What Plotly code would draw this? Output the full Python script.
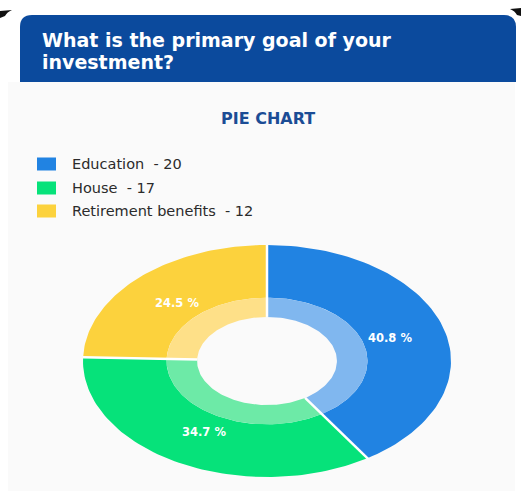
import numpy as np
import plotly.graph_objects as go

# --- data ---
categories = ["Education", "House", "Retirement benefits"]
counts = [20, 17, 12]
colors = ["#2183e2", "#06e27a", "#fcd23d"]
light_colors = ["#80b7ef", "#6deaa7", "#fee088"]
title_lines = ["What is the primary goal of your", "investment?"]

W, H = 521, 491


def px(x):
    return x / W


def py(y):
    return 1 - y / H


total = sum(counts)
shares = [c / total for c in counts]

R_OUT, R_MID, R_IN = 1.0, 0.546, 0.38


def ring_path(a0, a1, r0, r1, n=80):
    t = np.linspace(a0, a1, n)
    xo, yo = r1 * np.sin(t), r1 * np.cos(t)
    xi, yi = r0 * np.sin(t[::-1]), r0 * np.cos(t[::-1])
    xs = np.concatenate([xo, xi, xo[:1]])
    ys = np.concatenate([yo, yi, yo[:1]])
    return xs, ys


fig = go.Figure()
annotations = []
shapes = []

# donut slices, angles measured clockwise from 12 o'clock
start = 0.0
bounds = []
for cat, s, c, lc in zip(categories, shares, colors, light_colors):
    a0, a1 = start * 2 * np.pi, (start + s) * 2 * np.pi
    xs, ys = ring_path(a0, a1, R_MID, R_OUT)
    fig.add_trace(go.Scatter(x=xs, y=ys, fill="toself", fillcolor=c, mode="lines",
                             line=dict(width=0, color=c), hoverinfo="skip", showlegend=False))
    xs, ys = ring_path(a0, a1, R_IN, R_MID)
    fig.add_trace(go.Scatter(x=xs, y=ys, fill="toself", fillcolor=lc, mode="lines",
                             line=dict(width=0, color=lc), hoverinfo="skip", showlegend=False))
    bounds.append(a0)
    mid = (a0 + a1) / 2
    annotations.append(dict(x=0.7 * np.sin(mid), y=0.7 * np.cos(mid), xref="x", yref="y",
                            text=f"{s * 100:.1f} %", showarrow=False,
                            font=dict(family="DejaVu Sans", size=11.5, color="white", weight="bold")))
    start += s

# white separators between slices
sx, sy = [], []
for a in bounds:
    sx += [R_IN * np.sin(a), 1.01 * np.sin(a), None]
    sy += [R_IN * np.cos(a), 1.01 * np.cos(a), None]
fig.add_trace(go.Scatter(x=sx, y=sy, mode="lines", line=dict(color="white", width=2.5),
                         hoverinfo="skip", showlegend=False))

# card background
shapes.append(dict(type="rect", xref="paper", yref="paper", x0=px(8), x1=px(515),
                   y0=py(491), y1=py(82), fillcolor="#fafafa", line=dict(width=0), layer="below"))

# header with rounded top corners
x0h, x1h, y0h, y1h, rr = 20, 516, 15, 82, 12
path = (f"M {px(x0h)},{py(y1h)} L {px(x0h)},{py(y0h + rr)} "
        f"Q {px(x0h)},{py(y0h)} {px(x0h + rr)},{py(y0h)} "
        f"L {px(x1h - rr)},{py(y0h)} Q {px(x1h)},{py(y0h)} {px(x1h)},{py(y0h + rr)} "
        f"L {px(x1h)},{py(y1h)} Z")
shapes.append(dict(type="path", xref="paper", yref="paper", path=path,
                   fillcolor="#0b4a9d", line=dict(width=0), layer="below"))

# dark corner edges at the top
shapes.append(dict(type="path", xref="paper", yref="paper",
                   path=f"M {px(0)},{py(11)} L {px(12)},{py(10)} Q {px(7)},{py(12)} {px(5)},{py(16)} L {px(0)},{py(18)} Z",
                   fillcolor="#111111", line=dict(width=0)))
shapes.append(dict(type="path", xref="paper", yref="paper",
                   path=f"M {px(521)},{py(8)} L {px(510)},{py(9)} Q {px(515)},{py(11)} {px(517)},{py(15)} L {px(521)},{py(16)} Z",
                   fillcolor="#111111", line=dict(width=0)))

# header question, one annotation per line
for line, yy in zip(title_lines, [40, 62]):
    annotations.append(dict(x=px(40), y=py(yy), xref="paper", yref="paper", xanchor="left",
                            yanchor="middle", text=line, showarrow=False,
                            font=dict(family="DejaVu Sans", size=19, color="white", weight="bold")))

annotations.append(dict(x=px(268), y=py(119), xref="paper", yref="paper", xanchor="center", yanchor="middle",
                        text="PIE CHART", showarrow=False,
                        font=dict(family="DejaVu Sans", size=16, color="#1b4c95", weight="bold")))

# legend entries
leg_y = [164, 188, 211]
for cat, n, c, yy in zip(categories, counts, colors, leg_y):
    shapes.append(dict(type="rect", xref="paper", yref="paper", x0=px(37), x1=px(56),
                       y0=py(yy + 6.5), y1=py(yy - 6.5), fillcolor=c, line=dict(width=0)))
    annotations.append(dict(x=px(70), y=py(yy), xref="paper", yref="paper", xanchor="left",
                            yanchor="middle", text=f"{cat}&nbsp;&nbsp;- {n}", showarrow=False,
                            font=dict(family="DejaVu Sans", size=14.5, color="#2b2b2b")))

fig.update_layout(
    width=W, height=H, margin=dict(l=0, r=0, t=0, b=0),
    paper_bgcolor="#ffffff", plot_bgcolor="rgba(0,0,0,0)",
    shapes=shapes, annotations=annotations,
    xaxis=dict(domain=[px(83), px(451)], range=[-1, 1], visible=False, fixedrange=True),
    yaxis=dict(domain=[py(477), py(245)], range=[-1, 1], visible=False, fixedrange=True),
    showlegend=False,
)

fig.write_html("out.html")
